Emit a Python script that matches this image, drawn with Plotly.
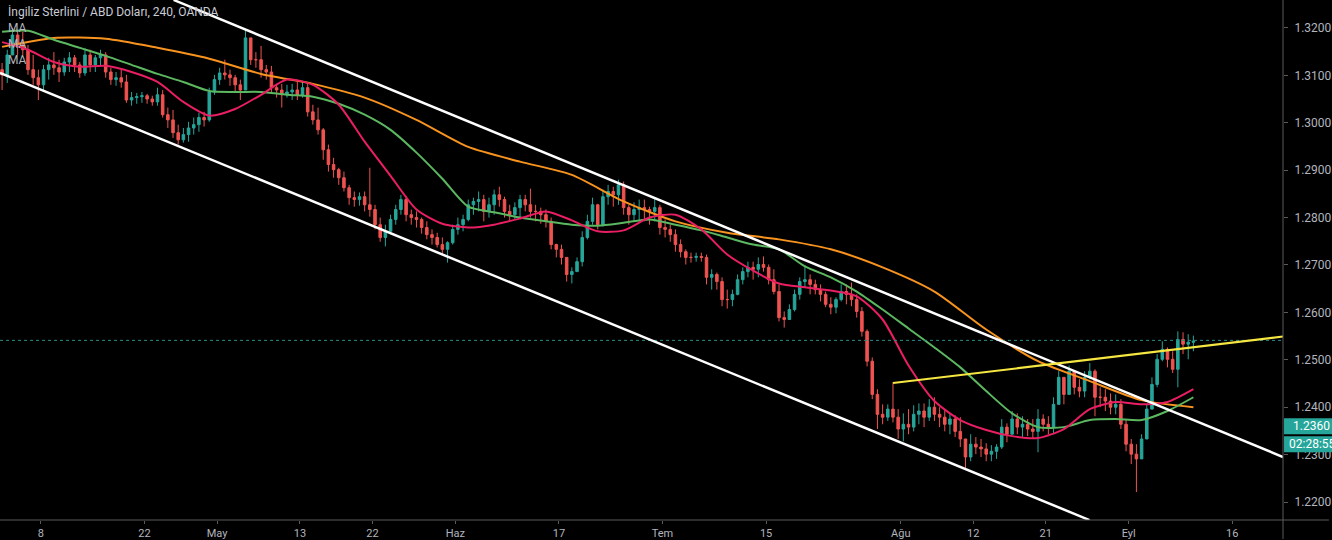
import pandas as pd
import plotly.graph_objects as go

title_text = "İngiliz Sterlini / ABD Doları, 240, OANDA"

# 12-hour bars, GBP/USD
open_first = 1.3112
high = [
    1.3126, 1.3154, 1.3200, 1.3196, 1.3192, 1.3164, 1.3143, 1.3112, 1.3122, 1.3137,
    1.3149, 1.3133, 1.3137, 1.3149, 1.3143, 1.3128, 1.3158, 1.3154, 1.3143, 1.3154,
    1.3149, 1.3116, 1.3107, 1.3112, 1.3101, 1.3065, 1.3063, 1.3065, 1.3061, 1.3057,
    1.3074, 1.3069, 1.3032, 1.3027, 1.2996, 1.2989, 1.3002, 1.3011, 1.3021, 1.3023,
    1.3074, 1.3101, 1.3116, 1.3133, 1.3112, 1.3101, 1.3091, 1.3196, 1.3179, 1.3149,
    1.3162, 1.3122, 1.3120, 1.3082, 1.3082, 1.3080, 1.3082, 1.3086, 1.3086, 1.3086,
    1.3038, 1.3032, 1.2989, 1.2954, 1.2926, 1.2905, 1.2897, 1.2869, 1.2855, 1.2853,
    1.2855, 1.2905, 1.2827, 1.2800, 1.2785, 1.2806, 1.2827, 1.2848, 1.2846, 1.2817,
    1.2813, 1.2800, 1.2792, 1.2775, 1.2768, 1.2758, 1.2750, 1.2785, 1.2800, 1.2806,
    1.2838, 1.2842, 1.2855, 1.2848, 1.2842, 1.2859, 1.2865, 1.2844, 1.2827, 1.2832,
    1.2848, 1.2848, 1.2861, 1.2827, 1.2821, 1.2817, 1.2800, 1.2745, 1.2743, 1.2712,
    1.2695, 1.2716, 1.2771, 1.2806, 1.2842, 1.2829, 1.2859, 1.2869, 1.2865, 1.2880,
    1.2876, 1.2827, 1.2832, 1.2838, 1.2838, 1.2823, 1.2842, 1.2827, 1.2796, 1.2785,
    1.2775, 1.2754, 1.2733, 1.2726, 1.2726, 1.2726, 1.2722, 1.2691, 1.2684, 1.2674,
    1.2648, 1.2648, 1.2680, 1.2695, 1.2707, 1.2707, 1.2716, 1.2718, 1.2701, 1.2691,
    1.2659, 1.2602, 1.2617, 1.2648, 1.2674, 1.2699, 1.2680, 1.2669, 1.2659, 1.2644,
    1.2632, 1.2632, 1.2659, 1.2659, 1.2663, 1.2638, 1.2611, 1.2564, 1.2505, 1.2438,
    1.2406, 1.2406, 1.2453, 1.2396, 1.2387, 1.2396, 1.2404, 1.2408, 1.2408, 1.2417,
    1.2421, 1.2400, 1.2396, 1.2387, 1.2383, 1.2379, 1.2333, 1.2343, 1.2337, 1.2333,
    1.2324, 1.2320, 1.2322, 1.2375, 1.2366, 1.2392, 1.2387, 1.2381, 1.2375, 1.2375,
    1.2396, 1.2385, 1.2381, 1.2421, 1.2476, 1.2463, 1.2488, 1.2469, 1.2459, 1.2476,
    1.2493, 1.2480, 1.2442, 1.2438, 1.2429, 1.2427, 1.2417, 1.2375, 1.2333, 1.2322,
    1.2343, 1.2406, 1.2463, 1.2512, 1.2539, 1.2526, 1.2518, 1.2560, 1.2558, 1.2554,
    1.2551,
]
low = [
    1.3069, 1.3084, 1.3154, 1.3143, 1.3143, 1.3101, 1.3080, 1.3048, 1.3065, 1.3091,
    1.3101, 1.3086, 1.3099, 1.3107, 1.3107, 1.3095, 1.3099, 1.3107, 1.3107, 1.3120,
    1.3095, 1.3080, 1.3078, 1.3074, 1.3042, 1.3036, 1.3040, 1.3042, 1.3040, 1.3036,
    1.3036, 1.3011, 1.2989, 1.2968, 1.2954, 1.2958, 1.2960, 1.2975, 1.2981, 1.2992,
    1.3002, 1.3059, 1.3080, 1.3091, 1.3078, 1.3065, 1.3048, 1.3069, 1.3122, 1.3116,
    1.3095, 1.3091, 1.3063, 1.3053, 1.3032, 1.3053, 1.3048, 1.3048, 1.3053, 1.3013,
    1.2996, 1.2975, 1.2922, 1.2897, 1.2884, 1.2869, 1.2855, 1.2827, 1.2823, 1.2825,
    1.2813, 1.2802, 1.2775, 1.2749, 1.2739, 1.2771, 1.2785, 1.2806, 1.2792, 1.2785,
    1.2779, 1.2766, 1.2754, 1.2743, 1.2737, 1.2722, 1.2705, 1.2743, 1.2764, 1.2771,
    1.2792, 1.2806, 1.2813, 1.2792, 1.2800, 1.2806, 1.2823, 1.2800, 1.2792, 1.2796,
    1.2800, 1.2813, 1.2800, 1.2792, 1.2787, 1.2779, 1.2733, 1.2716, 1.2701, 1.2665,
    1.2661, 1.2686, 1.2697, 1.2754, 1.2785, 1.2775, 1.2781, 1.2827, 1.2823, 1.2827,
    1.2806, 1.2785, 1.2792, 1.2792, 1.2792, 1.2785, 1.2792, 1.2764, 1.2758, 1.2749,
    1.2728, 1.2716, 1.2701, 1.2705, 1.2707, 1.2707, 1.2659, 1.2648, 1.2648, 1.2613,
    1.2608, 1.2613, 1.2636, 1.2659, 1.2674, 1.2669, 1.2674, 1.2686, 1.2659, 1.2638,
    1.2581, 1.2568, 1.2585, 1.2602, 1.2627, 1.2653, 1.2638, 1.2638, 1.2623, 1.2611,
    1.2596, 1.2598, 1.2623, 1.2617, 1.2613, 1.2589, 1.2549, 1.2486, 1.2417, 1.2354,
    1.2364, 1.2371, 1.2368, 1.2333, 1.2328, 1.2343, 1.2349, 1.2364, 1.2358, 1.2371,
    1.2371, 1.2358, 1.2349, 1.2343, 1.2337, 1.2316, 1.2269, 1.2286, 1.2301, 1.2295,
    1.2286, 1.2286, 1.2291, 1.2312, 1.2326, 1.2343, 1.2343, 1.2337, 1.2339, 1.2333,
    1.2305, 1.2349, 1.2343, 1.2343, 1.2413, 1.2406, 1.2434, 1.2427, 1.2421, 1.2421,
    1.2459, 1.2381, 1.2400, 1.2392, 1.2385, 1.2385, 1.2354, 1.2307, 1.2280, 1.2221,
    1.2291, 1.2333, 1.2396, 1.2442, 1.2497, 1.2484, 1.2472, 1.2442, 1.2512, 1.2501,
    1.2518,
]
close = [
    1.3101, 1.3143, 1.3185, 1.3164, 1.3154, 1.3112, 1.3095, 1.3080, 1.3112, 1.3122,
    1.3116, 1.3107, 1.3128, 1.3137, 1.3122, 1.3105, 1.3143, 1.3122, 1.3137, 1.3143,
    1.3107, 1.3091, 1.3095, 1.3086, 1.3048, 1.3053, 1.3055, 1.3057, 1.3050, 1.3044,
    1.3059, 1.3017, 1.3006, 1.2979, 1.2964, 1.2975, 1.2989, 1.2996, 1.3011, 1.3006,
    1.3065, 1.3091, 1.3105, 1.3101, 1.3095, 1.3080, 1.3069, 1.3179, 1.3133, 1.3133,
    1.3112, 1.3107, 1.3074, 1.3069, 1.3059, 1.3065, 1.3069, 1.3059, 1.3074, 1.3023,
    1.3006, 1.2985, 1.2943, 1.2912, 1.2901, 1.2884, 1.2863, 1.2842, 1.2838, 1.2844,
    1.2827, 1.2817, 1.2785, 1.2758, 1.2771, 1.2796, 1.2817, 1.2838, 1.2806, 1.2800,
    1.2796, 1.2779, 1.2764, 1.2758, 1.2743, 1.2733, 1.2747, 1.2775, 1.2785, 1.2796,
    1.2827, 1.2834, 1.2838, 1.2813, 1.2827, 1.2848, 1.2838, 1.2813, 1.2806, 1.2821,
    1.2838, 1.2827, 1.2813, 1.2813, 1.2806, 1.2792, 1.2743, 1.2733, 1.2716, 1.2680,
    1.2686, 1.2707, 1.2758, 1.2792, 1.2827, 1.2785, 1.2844, 1.2855, 1.2848, 1.2869,
    1.2821, 1.2806, 1.2817, 1.2821, 1.2817, 1.2813, 1.2821, 1.2779, 1.2775, 1.2764,
    1.2743, 1.2728, 1.2716, 1.2716, 1.2718, 1.2716, 1.2674, 1.2680, 1.2665, 1.2627,
    1.2627, 1.2638, 1.2669, 1.2686, 1.2695, 1.2691, 1.2701, 1.2695, 1.2669, 1.2644,
    1.2589, 1.2585, 1.2606, 1.2638, 1.2665, 1.2669, 1.2659, 1.2648, 1.2638, 1.2617,
    1.2611, 1.2627, 1.2644, 1.2638, 1.2627, 1.2602, 1.2560, 1.2497, 1.2427, 1.2385,
    1.2379, 1.2396, 1.2379, 1.2354, 1.2364, 1.2358, 1.2385, 1.2392, 1.2379, 1.2400,
    1.2385, 1.2379, 1.2364, 1.2375, 1.2349, 1.2333, 1.2295, 1.2322, 1.2316, 1.2312,
    1.2301, 1.2307, 1.2316, 1.2358, 1.2343, 1.2375, 1.2358, 1.2364, 1.2354, 1.2349,
    1.2375, 1.2364, 1.2358, 1.2406, 1.2463, 1.2427, 1.2476, 1.2442, 1.2434, 1.2463,
    1.2476, 1.2421, 1.2421, 1.2413, 1.2400, 1.2406, 1.2364, 1.2322, 1.2301, 1.2291,
    1.2333, 1.2396, 1.2448, 1.2501, 1.2522, 1.2501, 1.2480, 1.2543, 1.2533, 1.2537,
    1.2539,
]

# moving averages, read at every 5th / 10th bar
ma_fast_bars = list(range(0, 231, 5))
ma_fast = [
    1.3170, 1.3154, 1.3128, 1.3118, 1.3120, 1.3107, 1.3086, 1.3044, 1.3015, 1.3029,
    1.3059, 1.3091, 1.3080, 1.3038, 1.2960, 1.2888, 1.2817, 1.2787, 1.2779, 1.2785,
    1.2798, 1.2813, 1.2794, 1.2771, 1.2773, 1.2800, 1.2806, 1.2775, 1.2722, 1.2688,
    1.2661, 1.2653, 1.2646, 1.2634, 1.2585, 1.2488, 1.2413, 1.2373, 1.2352, 1.2339,
    1.2335, 1.2354, 1.2396, 1.2411, 1.2406, 1.2411, 1.2438,
]
ma_mid_bars = list(range(0, 231, 5))
ma_mid = [
    1.3192, 1.3194, 1.3175, 1.3158, 1.3141, 1.3122, 1.3103, 1.3086, 1.3067, 1.3065,
    1.3065, 1.3059, 1.3055, 1.3040, 1.3017, 1.2985, 1.2937, 1.2882, 1.2823, 1.2811,
    1.2800, 1.2792, 1.2785, 1.2783, 1.2789, 1.2796, 1.2785, 1.2773, 1.2758, 1.2743,
    1.2733, 1.2697, 1.2674, 1.2644, 1.2606, 1.2566, 1.2526, 1.2484, 1.2434, 1.2387,
    1.2358, 1.2358, 1.2373, 1.2375, 1.2373, 1.2392, 1.2421,
]
ma_slow_bars = list(range(0, 231, 10))
ma_slow = [
    1.3160, 1.3179, 1.3177, 1.3158, 1.3135, 1.3103, 1.3082, 1.3053, 1.3006, 1.2949,
    1.2918, 1.2890, 1.2834, 1.2792, 1.2768, 1.2754, 1.2733, 1.2695, 1.2644, 1.2564,
    1.2497, 1.2455, 1.2415, 1.2400,
]

# drawn lines (time, price)
upper_channel_t = ["2019-04-24 19:21", "2019-09-20 21:36"]
upper_channel_p = [1.3259, 1.2295]
lower_channel_t = ["2019-04-02 01:09", "2019-08-27 05:17"]
lower_channel_p = [1.3105, 1.2162]
yellow_t = ["2019-07-31 06:00", "2019-09-20 21:36"]
yellow_p = [1.2451, 1.2549]
last_price = 1.2541
marker_price = 1.2360
marker_label = "1.2360"
timer_label = "02:28:55"

tick_dates = ["2019-04-08", "2019-04-22", "2019-05-01", "2019-05-13", "2019-05-22",
              "2019-06-03", "2019-06-17", "2019-07-01", "2019-07-15", "2019-08-01",
              "2019-08-12", "2019-08-21", "2019-09-02", "2019-09-16"]
tick_labels = ["8", "22", "May", "13", "22", "Haz", "17", "Tem", "15", "Ağu",
               "12", "21", "Eyl", "16"]
price_ticks = [1.22, 1.23, 1.24, 1.25, 1.26, 1.27, 1.28, 1.29, 1.30, 1.31, 1.32]

# ---------------------------------------------------------------
sessions = pd.bdate_range("2019-04-02", periods=116)
n = len(close)
bar_time = [sessions[i // 2] + pd.Timedelta(hours=6 + 12 * (i % 2)) for i in range(n)]
opens = [open_first] + close[:-1]
highs = [max(h, o, c) for h, o, c in zip(high, opens, close)]
lows = [min(l, o, c) for l, o, c in zip(low, opens, close)]

UP = "#26a69a"
DOWN = "#ef5350"
FONT = "Roboto"

fig = go.Figure()
fig.add_trace(go.Candlestick(
    x=bar_time, open=opens, high=highs, low=lows, close=close,
    increasing=dict(line=dict(color=UP, width=1), fillcolor=UP),
    decreasing=dict(line=dict(color=DOWN, width=1), fillcolor=DOWN),
    whiskerwidth=0, hoverinfo="skip", showlegend=False,
))
for bars, vals, col in [(ma_slow_bars, ma_slow, "#f7931e"),
                        (ma_mid_bars, ma_mid, "#5cb860"),
                        (ma_fast_bars, ma_fast, "#e91e63")]:
    fig.add_trace(go.Scatter(
        x=[bar_time[b] for b in bars], y=vals, mode="lines",
        line=dict(color=col, width=2, shape="spline", smoothing=0.7),
        hoverinfo="skip", showlegend=False,
    ))

PLOT_W = 1286.0
PLOT_H = 521.0
shapes = []
# dotted last-price line
shapes.append(dict(type="line", xref="paper", yref="y", x0=0, x1=1, y0=last_price, y1=last_price,
                   line=dict(color="#2a8f86", width=1, dash="dot")))
# channel + yellow lines
for t, p, col, w in [(upper_channel_t, upper_channel_p, "white", 2.5),
                     (lower_channel_t, lower_channel_p, "white", 2.5),
                     (yellow_t, yellow_p, "#f5e642", 2)]:
    shapes.append(dict(type="line", xref="x", yref="y", x0=t[0], x1=t[1], y0=p[0], y1=p[1],
                       line=dict(color=col, width=w)))
# axis frame lines
shapes.append(dict(type="line", xref="paper", yref="paper", x0=1, x1=1, y0=-19 / PLOT_H, y1=1,
                   line=dict(color="#5a5a5a", width=1)))
shapes.append(dict(type="line", xref="paper", yref="paper", x0=0, x1=1332 / PLOT_W, y0=0, y1=0,
                   line=dict(color="#5a5a5a", width=1)))
# price marker boxes on the right axis
shapes.append(dict(type="rect", xref="paper", yref="paper", x0=1.0008, x1=1340 / PLOT_W,
                   y0=1 - 435 / PLOT_H, y1=1 - 419 / PLOT_H, fillcolor=UP, line=dict(width=0)))
shapes.append(dict(type="rect", xref="paper", yref="paper", x0=1.0008, x1=1340 / PLOT_W,
                   y0=1 - 453 / PLOT_H, y1=1 - 437 / PLOT_H, fillcolor=UP, line=dict(width=0)))

annotations = [
    dict(text=title_text, xref="paper", yref="paper", x=6 / PLOT_W, y=1 - 12 / PLOT_H,
         xanchor="left", yanchor="middle", showarrow=False,
         font=dict(family=FONT, size=12, color="#c9ccd4")),
]
for k, ypix in enumerate([28, 44, 60]):
    annotations.append(dict(text="MA", xref="paper", yref="paper", x=6 / PLOT_W, y=1 - ypix / PLOT_H,
                            xanchor="left", yanchor="middle", showarrow=False,
                            font=dict(family=FONT, size=12, color="#b2b5be")))
annotations.append(dict(text=marker_label, xref="paper", yref="paper", x=1294 / PLOT_W,
                        y=1 - 427 / PLOT_H, xanchor="left", yanchor="middle", showarrow=False,
                        font=dict(family=FONT, size=12, color="white")))
annotations.append(dict(text=timer_label, xref="paper", yref="paper", x=1290 / PLOT_W,
                        y=1 - 445 / PLOT_H, xanchor="left", yanchor="middle", showarrow=False,
                        font=dict(family=FONT, size=12, color="white")))

fig.update_layout(
    width=1332, height=540,
    margin=dict(l=0, r=46, t=0, b=19),
    paper_bgcolor="black", plot_bgcolor="black",
    showlegend=False, hovermode=False,
    shapes=shapes, annotations=annotations,
    font=dict(family=FONT),
)
fig.update_xaxes(
    type="date",
    range=["2019-04-02 01:09", "2019-09-20 21:36"],
    rangebreaks=[dict(bounds=["sat", "mon"])],
    rangeslider=dict(visible=False),
    tickvals=tick_dates, ticktext=tick_labels,
    showgrid=False, zeroline=False, showline=False,
    ticks="outside", ticklen=3, tickcolor="#5a5a5a",
    tickfont=dict(family=FONT, size=11, color="#b2b5be"),
)
fig.update_yaxes(
    side="right",
    range=[1.21621, 1.32589],
    tickvals=price_ticks, ticktext=[f"{v:.4f}" for v in price_ticks],
    showgrid=False, zeroline=False, showline=False,
    ticks="outside", ticklen=4, tickcolor="#5a5a5a",
    ticklabelstandoff=4,
    tickfont=dict(family=FONT, size=12, color="#b2b5be"),
)

fig.write_html("out.html")
